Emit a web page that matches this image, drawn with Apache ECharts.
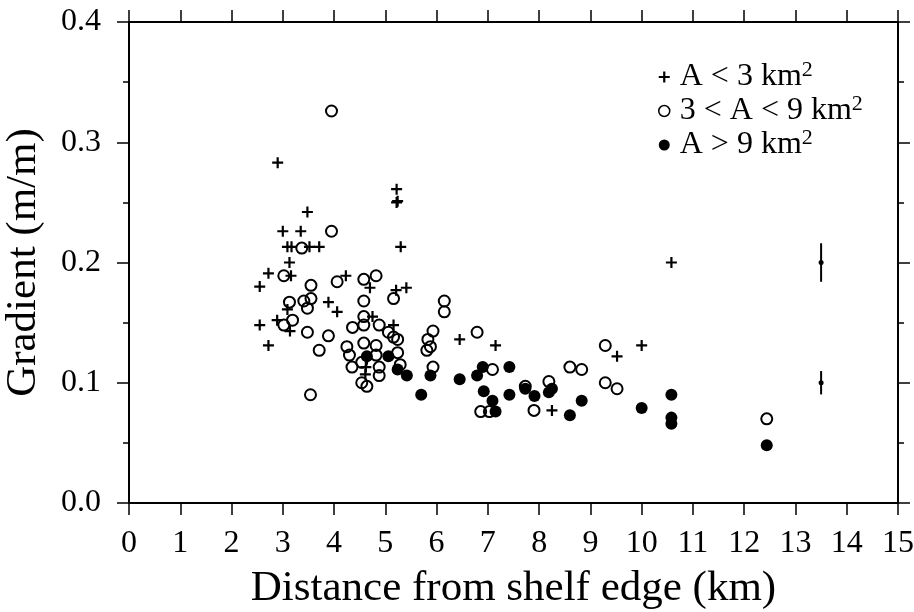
<!DOCTYPE html>
<html>
<head>
<meta charset="utf-8">
<script src="https://cdn.jsdelivr.net/npm/echarts@6/dist/echarts.min.js"></script>
<style>
  html, body { margin: 0; padding: 0; background: #fff; }
  #chart { width: 914px; height: 612px; }
</style>
</head>
<body>
<div id="chart"></div>
<script>
// A < 3 km2 (crosses)
var plusX = [2.90, 5.22, 5.22, 5.24, 3.48, 3.00, 3.35, 3.09, 3.17, 3.52, 3.71, 5.30, 3.13, 2.72, 3.16, 2.55, 4.23, 4.70, 5.21, 5.41,
             3.89, 4.06, 3.09, 2.89, 2.55, 3.14, 2.72, 4.75, 5.16, 4.62, 4.61, 6.45, 7.15, 8.25, 9.52, 10.00, 10.58];
var plusY = [0.283, 0.261, 0.250, 0.251, 0.242, 0.226, 0.226, 0.213, 0.213, 0.213, 0.213, 0.213, 0.200, 0.191, 0.189, 0.180, 0.189, 0.179, 0.177, 0.179,
             0.167, 0.159, 0.161, 0.152, 0.148, 0.143, 0.131, 0.155, 0.148, 0.113, 0.107, 0.136, 0.131, 0.077, 0.122, 0.131, 0.200];

// 3 < A < 9 km2 (open circles)
var openX = [3.95, 3.95, 3.37, 3.02, 3.55, 4.06, 4.58, 4.82, 5.16, 3.13, 3.41, 3.55, 3.48, 4.58, 3.02, 3.19, 3.48, 3.89, 3.71, 3.54,
             4.58, 4.36, 4.58, 4.88, 5.06, 5.16, 5.24, 4.58, 4.82, 4.25, 4.30, 4.82, 5.24, 4.35, 4.54, 4.88, 4.88, 5.29, 4.54, 4.64,
             5.93, 5.83, 5.88, 5.81, 5.93, 6.15, 6.15, 6.79, 7.09, 6.86, 7.03, 7.73, 7.90, 8.19, 8.60, 8.83, 9.29, 9.29, 9.52, 12.44];
var openY = [0.326, 0.226, 0.212, 0.189, 0.181, 0.184, 0.186, 0.189, 0.170, 0.167, 0.168, 0.170, 0.162, 0.168, 0.148, 0.152, 0.142, 0.139, 0.127, 0.090,
             0.155, 0.146, 0.148, 0.148, 0.142, 0.138, 0.136, 0.133, 0.131, 0.130, 0.123, 0.123, 0.125, 0.113, 0.117, 0.113, 0.106, 0.115, 0.100, 0.097,
             0.143, 0.136, 0.130, 0.127, 0.113, 0.168, 0.159, 0.142, 0.111, 0.076, 0.076, 0.097, 0.077, 0.101, 0.113, 0.111, 0.131, 0.100, 0.095, 0.070];

// A > 9 km2 (filled circles)
var fillX = [4.64, 5.06, 5.24, 5.42, 5.70, 5.88, 6.45, 6.90, 6.79, 7.42, 6.92, 7.09, 7.42, 7.15, 7.73, 7.91, 8.19, 8.25, 8.60, 8.83,
             10.00, 10.58, 10.58, 10.58, 12.44];
var fillY = [0.122, 0.122, 0.111, 0.106, 0.090, 0.106, 0.103, 0.113, 0.106, 0.113, 0.093, 0.085, 0.090, 0.076, 0.095, 0.089, 0.092, 0.095, 0.073, 0.085,
             0.079, 0.090, 0.071, 0.066, 0.048];

// error bars drawn at the right
var errX = [13.5, 13.5];
var errY = [0.2, 0.1];
var errHalf = [0.016, 0.0097];

var seriesNames = ['A < 3 km2', '3 < A < 9 km2', 'A > 9 km2'];
var legendText = {
    'A < 3 km2': '{b|A < 3 km}{s|2}',
    '3 < A < 9 km2': '{b|3 < A < 9 km}{s|2}',
    'A > 9 km2': '{b|A > 9 km}{s|2}'
};

var FONT = '"Liberation Serif", "DejaVu Serif", serif';
var plusPath = 'path://M-1.1,-5.5H1.1V-1.1H5.5V1.1H1.1V5.5H-1.1V1.1H-5.5V-1.1H-1.1Z';

function pairs(xs, ys) {
    var out = [];
    for (var i = 0; i < xs.length; i++) {
        out.push([xs[i], ys[i]]);
    }
    return out;
}

var errData = [];
for (var i = 0; i < errX.length; i++) {
    errData.push([errX[i], errY[i], errHalf[i]]);
}

var axisLine = { show: true, onZero: false, lineStyle: { color: '#000', width: 2 } };
var tickStyle = { color: '#000', width: 1.5 };

var chart = echarts.init(document.getElementById('chart'));
chart.setOption({
    animation: false,
    backgroundColor: '#fff',
    grid: { left: 129, right: 16, top: 22, bottom: 109, containLabel: false, outerBoundsMode: 'none' },
    legend: {
        orient: 'vertical',
        left: 653,
        top: 54,
        itemWidth: 11,
        itemHeight: 11,
        itemGap: 0,
        data: [
            { name: seriesNames[0], icon: plusPath, itemStyle: { color: '#000', borderWidth: 0, opacity: 1 } },
            { name: seriesNames[1], icon: 'circle', itemStyle: { color: 'rgba(0,0,0,0)', borderColor: '#000', borderWidth: 1.5, opacity: 1 } },
            { name: seriesNames[2], icon: 'circle', itemStyle: { color: '#000', borderWidth: 0, opacity: 1 } }
        ],
        formatter: function (name) { return legendText[name]; },
        textStyle: {
            color: '#000',
            fontFamily: FONT,
            padding: [0, 0, 0, 5],
            rich: {
                b: { fontSize: 32, fontFamily: FONT, color: '#000', lineHeight: 36 },
                s: { fontSize: 22, fontFamily: FONT, color: '#000', verticalAlign: 'top', lineHeight: 22 }
            }
        }
    },
    xAxis: [{
        type: 'value',
        min: 0, max: 15, interval: 1,
        name: 'Distance from shelf edge (km)',
        nameLocation: 'middle',
        nameGap: 64,
        nameTextStyle: { fontFamily: FONT, fontSize: 43, color: '#000' },
        axisLine: axisLine,
        axisTick: { show: true, length: 12, lineStyle: tickStyle },
        axisLabel: { fontFamily: FONT, fontSize: 32, color: '#000', margin: 25 },
        splitLine: { show: false }
    }, {
        type: 'value',
        position: 'top',
        min: 0, max: 15, interval: 1,
        axisLine: axisLine,
        axisTick: { show: true, length: 12, lineStyle: tickStyle },
        axisLabel: { show: false },
        splitLine: { show: false }
    }],
    yAxis: [{
        type: 'value',
        min: 0, max: 0.4, interval: 0.1,
        name: 'Gradient (m/m)',
        nameLocation: 'middle',
        nameGap: 84,
        nameTextStyle: { fontFamily: FONT, fontSize: 43, color: '#000' },
        axisLine: axisLine,
        axisTick: { show: true, length: 12, lineStyle: tickStyle },
        minorTick: { show: true, splitNumber: 2, length: 6, lineStyle: tickStyle },
        axisLabel: {
            fontFamily: FONT, fontSize: 32, color: '#000', margin: 28,
            formatter: function (v) { return v.toFixed(1); }
        },
        splitLine: { show: false }
    }, {
        type: 'value',
        position: 'right',
        min: 0, max: 0.4, interval: 0.1,
        axisLine: axisLine,
        axisTick: { show: true, length: 12, lineStyle: tickStyle },
        minorTick: { show: true, splitNumber: 2, length: 6, lineStyle: tickStyle },
        axisLabel: { show: false },
        splitLine: { show: false }
    }],
    series: [{
        name: seriesNames[0],
        type: 'scatter',
        symbol: plusPath,
        symbolSize: 11,
        itemStyle: { color: '#000', opacity: 1 },
        data: pairs(plusX, plusY),
        z: 2
    }, {
        name: seriesNames[1],
        type: 'scatter',
        symbol: 'circle',
        symbolSize: 11,
        itemStyle: { color: 'rgba(0,0,0,0)', borderColor: '#000', borderWidth: 2, opacity: 1 },
        data: pairs(openX, openY),
        z: 3
    }, {
        name: seriesNames[2],
        type: 'scatter',
        symbol: 'circle',
        symbolSize: 12,
        itemStyle: { color: '#000', opacity: 1 },
        data: pairs(fillX, fillY),
        z: 4
    }, {
        name: 'error',
        type: 'custom',
        data: errData,
        renderItem: function (params, api) {
            var x = api.value(0), y = api.value(1), h = api.value(2);
            var top = api.coord([x, y + h]);
            var bot = api.coord([x, y - h]);
            var c = api.coord([x, y]);
            return {
                type: 'group',
                children: [{
                    type: 'line',
                    shape: { x1: top[0], y1: top[1], x2: bot[0], y2: bot[1] },
                    style: { stroke: '#000', lineWidth: 2 }
                }, {
                    type: 'circle',
                    shape: { cx: c[0], cy: c[1], r: 2.5 },
                    style: { fill: '#000' }
                }]
            };
        },
        z: 5
    }]
});
</script>
</body>
</html>
